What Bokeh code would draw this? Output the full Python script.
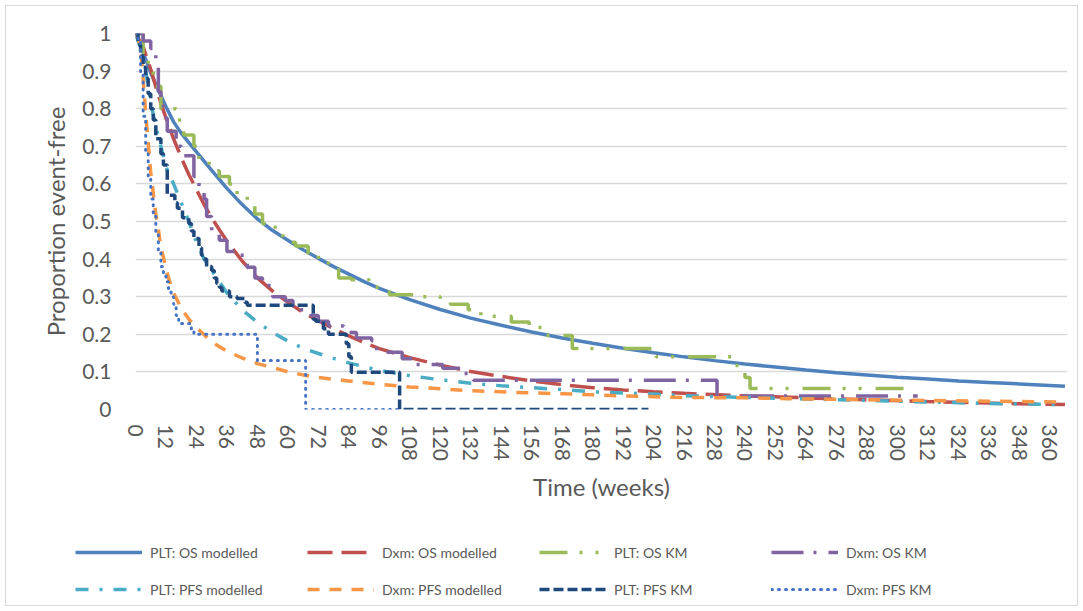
from bokeh.plotting import figure
from bokeh.layouts import column, row
from bokeh.models import (FixedTicker, NumeralTickFormatter, Legend, LegendItem, Range1d)
from bokeh.embed import file_html
from bokeh.resources import INLINE

FONT = "Lato"
TEXT = "#595959"

# ---------------- data ----------------
x_ticks = list(range(0, 361, 12))
y_ticks = [i / 10 for i in range(11)]

# PLT: OS modelled
plt_os_mod_t = [0, 3, 6, 9, 12, 15, 18, 21, 24, 30, 36, 42, 48, 54, 60, 66, 72, 78, 84, 90, 96,
                108, 120, 132, 144, 156, 168, 180, 192, 204, 216, 228, 240, 252, 264, 276, 288,
                300, 312, 324, 336, 348, 366]
plt_os_mod_s = [1.0, 0.95, 0.895, 0.85, 0.805, 0.765, 0.735, 0.71, 0.685, 0.636, 0.588, 0.545,
                0.507, 0.476, 0.45, 0.425, 0.402, 0.38, 0.36, 0.34, 0.322, 0.292, 0.266, 0.243,
                0.224, 0.206, 0.19, 0.176, 0.163, 0.151, 0.14, 0.13, 0.121, 0.113, 0.105, 0.098,
                0.092, 0.086, 0.081, 0.076, 0.072, 0.068, 0.062]

# Dxm: OS modelled
dxm_os_mod_t = [0, 3, 6, 9, 12, 15, 18, 21, 24, 27, 30, 33, 36, 42, 48, 54, 60, 66, 72, 78, 84,
                90, 96, 108, 120, 132, 144, 156, 168, 180, 192, 204, 216, 240, 264, 288, 312,
                336, 366]
dxm_os_mod_s = [1.0, 0.965, 0.905, 0.835, 0.775, 0.72, 0.67, 0.625, 0.585, 0.545, 0.51, 0.478,
                0.448, 0.395, 0.35, 0.315, 0.285, 0.258, 0.236, 0.215, 0.196, 0.178, 0.162,
                0.138, 0.118, 0.101, 0.088, 0.076, 0.066, 0.058, 0.052, 0.047, 0.043, 0.036,
                0.031, 0.026, 0.021, 0.017, 0.013]

# PLT: OS KM
plt_os_km_t = [0, 3, 5, 7, 10, 16, 19, 23, 25, 29, 33, 37, 40, 44, 47, 50, 55, 58, 63, 68, 72,
               76, 80, 85, 92, 100, 111, 120, 124, 131, 136, 148, 155, 160, 172, 205, 236, 240,
               242, 303]
plt_os_km_s = [1.0, 0.95, 0.90, 0.86, 0.80, 0.77, 0.73, 0.70, 0.665, 0.635, 0.62, 0.60, 0.57,
               0.545, 0.52, 0.495, 0.47, 0.445, 0.435, 0.415, 0.40, 0.383, 0.35, 0.345, 0.325,
               0.305, 0.30, 0.285, 0.28, 0.265, 0.248, 0.233, 0.218, 0.197, 0.162, 0.14, 0.117,
               0.085, 0.056, 0.056]

# Dxm: OS KM
dxm_os_km_t = [0, 3, 6, 8, 9, 10, 11, 12.5, 16, 18, 23, 25, 27, 28, 30, 33, 36, 40, 44, 47, 50,
               54, 59, 62, 65, 68, 72, 76, 82, 87, 93, 95, 105, 109, 121, 128, 133, 229, 308]
dxm_os_km_s = [1.0, 0.98, 0.96, 0.92, 0.845, 0.81, 0.775, 0.74, 0.70, 0.675, 0.62, 0.59, 0.56,
               0.513, 0.476, 0.45, 0.42, 0.41, 0.378, 0.35, 0.33, 0.30, 0.29, 0.275, 0.265,
               0.25, 0.235, 0.222, 0.205, 0.19, 0.183, 0.152, 0.135, 0.12, 0.11, 0.096, 0.078,
               0.036, 0.036]

# PLT: PFS modelled
plt_pfs_mod_t = [0, 2, 4, 6, 8, 10, 12, 15, 18, 21, 24, 27, 30, 33, 36, 42, 48, 54, 60, 66, 72,
                 78, 84, 90, 96, 108, 120, 132, 144, 156, 168, 180, 192, 204, 216, 240, 264,
                 288, 312, 336, 366]
plt_pfs_mod_s = [1.0, 0.96, 0.90, 0.82, 0.75, 0.70, 0.645, 0.60, 0.55, 0.50, 0.445, 0.40, 0.37,
                 0.34, 0.31, 0.265, 0.232, 0.205, 0.182, 0.163, 0.149, 0.136, 0.124, 0.114,
                 0.104, 0.09, 0.079, 0.07, 0.063, 0.058, 0.053, 0.047, 0.044, 0.041, 0.037,
                 0.032, 0.028, 0.024, 0.02, 0.016, 0.013]

# Dxm: PFS modelled
dxm_pfs_mod_t = [0, 1, 2, 3, 4, 5, 6, 7, 8, 9, 10, 11, 12, 13, 15, 18, 21, 24, 30, 36, 42, 48,
                 54, 60, 66, 72, 84, 96, 108, 120, 132, 144, 156, 168, 180, 192, 216, 240, 264,
                 288, 312, 336, 366]
dxm_pfs_mod_s = [1.0, 0.99, 0.96, 0.88, 0.79, 0.71, 0.63, 0.575, 0.52, 0.48, 0.43, 0.405, 0.375,
                 0.35, 0.31, 0.27, 0.24, 0.218, 0.18, 0.155, 0.137, 0.122, 0.112, 0.10, 0.092,
                 0.085, 0.076, 0.067, 0.06, 0.055, 0.05, 0.047, 0.044, 0.042, 0.039, 0.036,
                 0.032, 0.031, 0.028, 0.026, 0.024, 0.022, 0.02]

# PLT: PFS KM
plt_pfs_km_t = [0, 1, 2, 3, 4, 5, 6, 7, 8, 10, 11, 12.5, 15.5, 16.5, 18.5, 21, 22, 23, 25, 26,
                27, 28, 30, 31, 32, 33, 34, 37, 40, 43, 44, 70, 71, 74, 76, 83, 84, 85, 104, 202]
plt_pfs_km_s = [1.0, 0.97, 0.94, 0.91, 0.88, 0.84, 0.80, 0.77, 0.72, 0.68, 0.65, 0.57, 0.55,
                0.535, 0.51, 0.495, 0.475, 0.455, 0.43, 0.41, 0.40, 0.38, 0.37, 0.35, 0.335,
                0.325, 0.315, 0.30, 0.295, 0.285, 0.277, 0.24, 0.235, 0.215, 0.20, 0.175, 0.14,
                0.099, 0.0, 0.0]

# Dxm: PFS KM
dxm_pfs_km_t = [0, 1, 2, 3, 4, 5, 6, 7, 8, 9, 10, 11, 12, 13, 14, 15, 16, 17, 22, 23, 48, 67,
                104]
dxm_pfs_km_s = [1.0, 0.98, 0.89, 0.78, 0.68, 0.62, 0.56, 0.52, 0.47, 0.42, 0.38, 0.36, 0.34,
                0.32, 0.30, 0.28, 0.25, 0.229, 0.21, 0.20, 0.13, 0.0, 0.0]

labels = ["PLT: OS modelled", "Dxm: OS modelled", "PLT: OS KM", "Dxm: OS KM",
          "PLT: PFS modelled", "Dxm: PFS modelled", "PLT: PFS KM", "Dxm: PFS KM"]

W = 3.5
styles = [
    dict(kind="line", line_color="#4F81BD", line_width=W),
    dict(kind="line", line_color="#C0504D", line_width=W, line_dash="25 9"),
    dict(kind="step", line_color="#9BBB59", line_width=W, line_dash="28 12 3 13 3 14"),
    dict(kind="step", line_color="#8064A2", line_width=W, line_dash="32 10 3 12"),
    dict(kind="line", line_color="#4BACC6", line_width=W, line_dash="13 11 3 11"),
    dict(kind="line", line_color="#F79646", line_width=W, line_dash="12 10"),
    dict(kind="step", line_color="#1F497D", line_width=W, line_dash="10 4"),
    dict(kind="step", line_color="#4472C4", line_width=3, line_dash="1 6", line_cap="round"),
]
series = [(plt_os_mod_t, plt_os_mod_s), (dxm_os_mod_t, dxm_os_mod_s),
          (plt_os_km_t, plt_os_km_s), (dxm_os_km_t, dxm_os_km_s),
          (plt_pfs_mod_t, plt_pfs_mod_s), (dxm_pfs_mod_t, dxm_pfs_mod_s),
          (plt_pfs_km_t, plt_pfs_km_s), (dxm_pfs_km_t, dxm_pfs_km_s)]

# ---------------- main figure ----------------
MAIN_H = 520
p = figure(width=1083, height=MAIN_H, output_backend="svg", toolbar_location=None,
           title=None, x_range=Range1d(0, 367), y_range=Range1d(0, 1),
           min_border_left=135, min_border_right=16, min_border_top=33,
           min_border_bottom=MAIN_H - 409)
p.outline_line_color = None
p.background_fill_color = "white"
p.border_fill_alpha = 0

p.xgrid.visible = False
p.ygrid.ticker = FixedTicker(ticks=y_ticks)
p.ygrid.grid_line_color = "#D9D9D9"
p.ygrid.grid_line_width = 1.5

for ax in (p.xaxis[0], p.yaxis[0]):
    ax.axis_line_color = None
    ax.major_tick_line_color = None
    ax.minor_tick_line_color = None
    ax.major_tick_out = 0
    ax.major_tick_in = 0
    ax.minor_tick_out = 0
    ax.major_label_text_font = FONT
    ax.major_label_text_color = TEXT
    ax.major_label_text_font_size = "21px"
    ax.axis_label_text_font = FONT
    ax.axis_label_text_color = TEXT
    ax.axis_label_text_font_size = "24px"
    ax.axis_label_text_font_style = "normal"

p.xaxis.ticker = FixedTicker(ticks=x_ticks)
p.xaxis.major_label_orientation = "vertical"
p.xaxis.major_label_standoff = 15
p.xaxis.axis_label = "Time (weeks)"
p.xaxis.axis_label_standoff = 8

p.yaxis.ticker = FixedTicker(ticks=y_ticks)
p.yaxis.formatter = NumeralTickFormatter(format="0.[0]")
p.yaxis.major_label_standoff = 24
p.yaxis.axis_label = "Proportion event-free"
p.yaxis.axis_label_standoff = 9

for (t, s), st in zip(series, styles):
    st = dict(st)
    kind = st.pop("kind")
    if kind == "line":
        p.line(t, s, **st)
    else:
        p.step(t, s, mode="after", **st)

# ---------------- legend strip (below the chart) ----------------
LEG_H = 611 - MAIN_H
q = figure(width=1083, height=LEG_H, output_backend="svg", toolbar_location=None,
           title=None, x_range=Range1d(0, 1), y_range=Range1d(0, 1),
           min_border=0, min_border_left=0, min_border_right=0,
           min_border_top=0, min_border_bottom=0,
           x_axis_type=None, y_axis_type=None)
q.outline_line_color = None
q.xgrid.visible = False
q.ygrid.visible = False
q.background_fill_alpha = 0
q.border_fill_alpha = 0

nan = float("nan")
items = []
for lab, st in zip(labels, styles):
    st = dict(st)
    st.pop("kind")
    r = q.line([nan], [nan], **st)   # legend sample only, draws nothing in the strip
    items.append(LegendItem(label=lab, renderers=[r]))

legend = Legend(items=items, location=(75, 7), orientation="horizontal", ncols=4,
                glyph_width=67, glyph_height=30, label_height=30, label_width=150,
                label_standoff=8, spacing=7, padding=0, margin=0,
                border_line_color=None, background_fill_alpha=0,
                label_text_font=FONT, label_text_font_size="14px",
                label_text_color=TEXT)
q.add_layout(legend)

page = column(p, row(q), spacing=0,
              styles={"outline": "1.5px solid #D9D9D9", "outline-offset": "-6px",
                      "background-color": "white"})

open("out.html", "w").write(file_html(page, INLINE))
